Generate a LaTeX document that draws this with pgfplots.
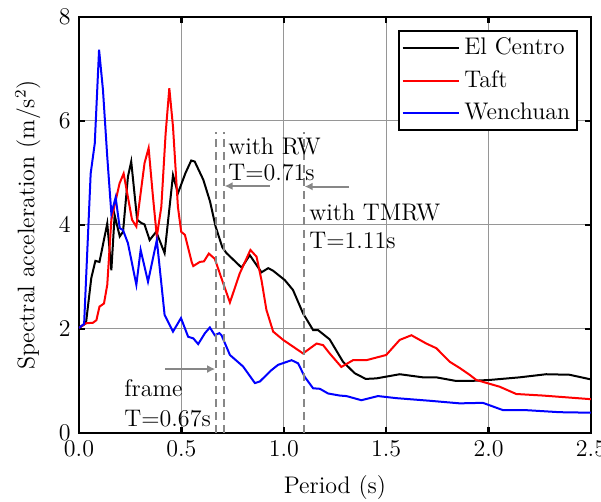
\documentclass[border=0pt]{standalone}
\usepackage{pgfplots}
\pgfplotsset{compat=1.18}
\usetikzlibrary{arrows.meta}
\definecolor{gridgray}{RGB}{150,150,150}
\definecolor{dashgray}{RGB}{135,135,135}
\begin{document}
\fontsize{12}{14}\selectfont
\begin{tikzpicture}
\begin{axis}[
  scale only axis, width=256pt, height=208pt,
  xmin=0, xmax=2.5, ymin=0, ymax=8,
  xtick={0,0.5,1,1.5,2,2.5}, ytick={0,2,4,6,8},
  xticklabel style={/pgf/number format/.cd, fixed, fixed zerofill, precision=1},
  yticklabel style={/pgf/number format/.cd, fixed, precision=0},
  tick align=inside, major tick length=3pt,
  tick style={black, line width=1.2pt},
  axis line style={line width=1.2pt},
  grid=major, major grid style={gridgray, line width=0.5pt},
  xlabel={Period (s)},
  ylabel={Spectral acceleration (m/s$^2$)},
  xlabel style={at={(axis description cs:0.5,-0.132)}, anchor=center},
  ylabel style={at={(axis description cs:-0.1,0.5)}, anchor=center},
  legend style={at={(rel axis cs:0.975,0.969)}, anchor=north east, draw=black, line width=1pt, cells={anchor=west}, row sep=2pt, inner sep=1.5pt},
  legend image code/.code={\draw[#1, line width=1pt] (0cm,0cm) -- (1.0cm,0cm);},
  every axis plot/.append style={line width=1pt},
]
\addplot[black] coordinates {
(0,2.02) (0.034,2.11) (0.06,2.98) (0.08,3.31) (0.10,3.29) (0.138,4.03) (0.158,3.13) (0.174,4.19) (0.199,3.78) (0.215,3.87) (0.239,4.93) (0.255,5.22) (0.284,4.10) (0.304,4.04) (0.32,4.01) (0.345,3.71) (0.377,3.87) (0.418,3.46) (0.459,4.96) (0.483,4.61) (0.52,5.0) (0.548,5.24) (0.565,5.22) (0.607,4.87) (0.64,4.45) (0.667,3.97) (0.70,3.57) (0.72,3.46) (0.794,3.18) (0.834,3.42) (0.891,3.09) (0.924,3.17) (0.948,3.12) (1.005,2.94) (1.045,2.75) (1.094,2.30) (1.143,1.98) (1.167,1.98) (1.224,1.80) (1.289,1.37) (1.346,1.15) (1.40,1.04) (1.452,1.05) (1.566,1.13) (1.68,1.07) (1.745,1.07) (1.842,1.0) (1.907,1.0) (2.005,1.02) (2.151,1.07) (2.281,1.13) (2.395,1.12) (2.5,1.03)
};
\addlegendentry{El Centro}
\addplot[red] coordinates {
(0,2.02) (0.034,2.11) (0.068,2.12) (0.085,2.17) (0.10,2.43) (0.122,2.49) (0.138,2.85) (0.158,4.10) (0.198,4.80) (0.218,4.99) (0.259,4.10) (0.28,3.97) (0.32,5.19) (0.34,5.48) (0.361,4.55) (0.38,3.78) (0.402,4.35) (0.423,5.76) (0.441,6.63) (0.459,5.89) (0.483,4.35) (0.499,3.87) (0.517,3.81) (0.55,3.29) (0.558,3.21) (0.59,3.29) (0.61,3.3) (0.634,3.45) (0.663,3.35) (0.704,2.88) (0.737,2.51) (0.785,3.07) (0.837,3.52) (0.867,3.39) (0.891,2.94) (0.915,2.37) (0.948,1.95) (0.997,1.79) (1.094,1.53) (1.16,1.72) (1.192,1.69) (1.224,1.53) (1.281,1.27) (1.338,1.40) (1.403,1.40) (1.50,1.50) (1.566,1.79) (1.623,1.88) (1.696,1.72) (1.745,1.63) (1.81,1.37) (1.859,1.25) (1.907,1.12) (1.94,1.02) (2.054,0.89) (2.135,0.75) (2.265,0.72) (2.5,0.65)
};
\addlegendentry{Taft}
\addplot[blue] coordinates {
(0,2.02) (0.025,2.1) (0.057,4.99) (0.077,5.57) (0.098,7.37) (0.117,6.6) (0.138,5.31) (0.158,4.22) (0.179,4.53) (0.199,3.94) (0.215,3.90) (0.239,3.65) (0.28,2.85) (0.301,3.52) (0.337,2.91) (0.38,3.71) (0.418,2.27) (0.459,1.95) (0.498,2.21) (0.533,1.85) (0.558,1.82) (0.582,1.71) (0.615,1.92) (0.639,2.03) (0.663,1.88) (0.685,1.92) (0.696,1.88) (0.737,1.50) (0.801,1.28) (0.859,0.96) (0.883,0.99) (0.94,1.21) (0.972,1.31) (1.038,1.40) (1.07,1.34) (1.102,1.08) (1.143,0.86) (1.176,0.85) (1.216,0.76) (1.273,0.72) (1.306,0.71) (1.379,0.63) (1.46,0.71) (1.55,0.67) (1.712,0.62) (1.859,0.57) (1.972,0.58) (2.07,0.44) (2.18,0.44) (2.346,0.40) (2.5,0.39)
};
\addlegendentry{Wenchuan}
\addplot[dashgray, line width=1pt, dash pattern=on 4pt off 2.5pt, forget plot] coordinates {(0.667,0) (0.667,5.79)};
\addplot[dashgray, line width=1pt, dash pattern=on 4pt off 2.5pt, forget plot] coordinates {(0.709,0) (0.709,5.79)};
\addplot[dashgray, line width=1pt, dash pattern=on 4pt off 2.5pt, forget plot] coordinates {(1.10,0) (1.10,5.79)};
\draw[dashgray, line width=1pt, -{Latex[length=4pt,width=4pt]}] (axis cs:0.932,4.75) -- (axis cs:0.711,4.75);
\draw[dashgray, line width=1pt, -{Latex[length=4pt,width=4pt]}] (axis cs:1.319,4.74) -- (axis cs:1.102,4.74);
\draw[dashgray, line width=1pt, -{Latex[length=4pt,width=4pt]}] (axis cs:0.42,1.23) -- (axis cs:0.665,1.23);
\node[anchor=west, inner sep=0pt] at (axis cs:0.727,5.52) {with RW};
\node[anchor=west, inner sep=0pt] at (axis cs:0.727,5.00) {T=0.71s};
\node[anchor=west, inner sep=0pt] at (axis cs:1.123,4.24) {with TMRW};
\node[anchor=west, inner sep=0pt] at (axis cs:1.123,3.71) {T=1.11s};
\node[anchor=west, inner sep=0pt] at (axis cs:0.22,0.86) {frame};
\node[anchor=west, inner sep=0pt] at (axis cs:0.22,0.28) {T=0.67s};
\end{axis}
\pgfresetboundingbox
\useasboundingbox (-39.5pt,-34.5pt) rectangle (261pt,216.5pt);
\end{tikzpicture}
\end{document}
